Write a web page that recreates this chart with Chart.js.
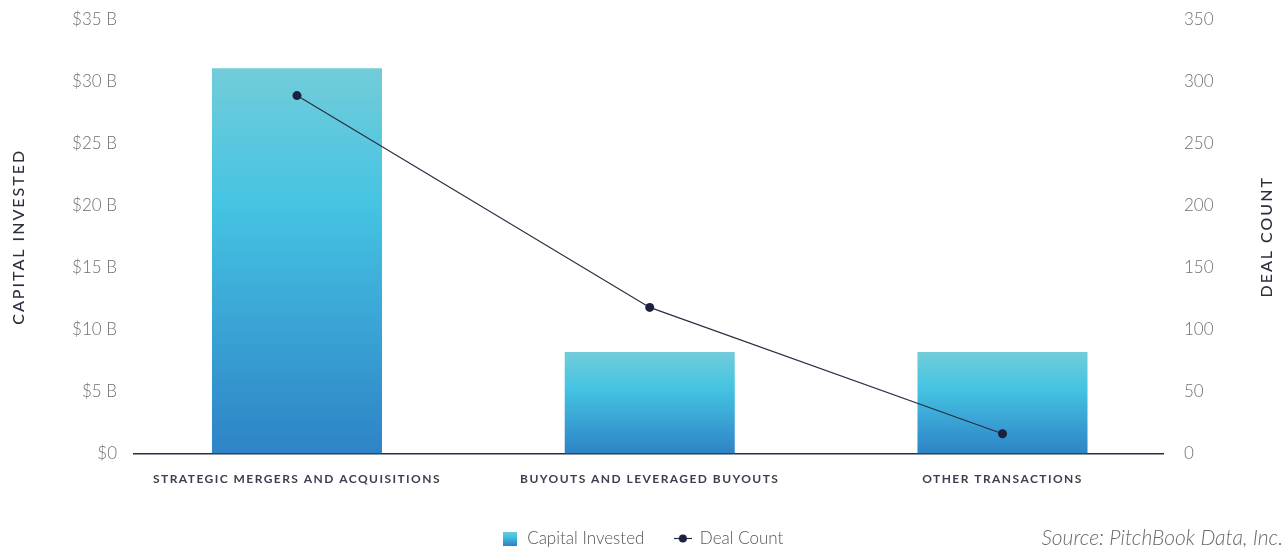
<!DOCTYPE html>
<html>
<head>
<meta charset="utf-8">
<script src="https://cdn.jsdelivr.net/npm/chart.js@4/dist/chart.umd.min.js"></script>
<style>
html,body{margin:0;padding:0;background:#fff;}
#wrap{width:1285px;height:547px;position:relative;}
</style>
</head>
<body>
<div id="wrap"><canvas id="c" width="1285" height="547"></canvas></div>
<script>
const categories = ['STRATEGIC MERGERS AND ACQUISITIONS', 'BUYOUTS AND LEVERAGED BUYOUTS', 'OTHER TRANSACTIONS'];
const capitalInvested = [31.1, 8.2, 8.2];   // $B
const dealCount = [289, 118, 16];
const leftTicks = [0, 5, 10, 15, 20, 25, 30, 35];
const rightTicks = [0, 50, 100, 150, 200, 250, 300, 350];

const FONT = "Lato, 'Noto Sans', sans-serif";
const LINE_COLOR = '#2a2e45';
const POINT_COLOR = '#1d2140';

function barGradient(c, top, bottom) {
  const g = c.createLinearGradient(0, top, 0, bottom);
  g.addColorStop(0, '#72ccd9');
  g.addColorStop(0.35, '#45c4e3');
  g.addColorStop(1, '#2e83c6');
  return g;
}

function makeBarIcon() {
  const cv = document.createElement('canvas');
  cv.width = 14; cv.height = 14;
  const c = cv.getContext('2d');
  c.fillStyle = barGradient(c, 0, 14);
  c.fillRect(0, 0, 14, 14);
  return cv;
}
function makeLineIcon() {
  const cv = document.createElement('canvas');
  cv.width = 18; cv.height = 11;
  const c = cv.getContext('2d');
  c.strokeStyle = LINE_COLOR; c.lineWidth = 1.2;
  c.beginPath(); c.moveTo(0, 5.5); c.lineTo(18, 5.5); c.stroke();
  c.fillStyle = POINT_COLOR;
  c.beginPath(); c.arc(9, 5.5, 4, 0, Math.PI * 2); c.fill();
  return cv;
}
const barIcon = makeBarIcon();
const lineIcon = makeLineIcon();

function spaced(spacing, method) {
  return function (scale) {
    if (scale._patched) return;
    scale._patched = true;
    const orig = Object.getPrototypeOf(scale)[method];
    scale[method] = function (...args) {
      const ctx = this.ctx;
      ctx.save();
      ctx.letterSpacing = spacing;
      orig.apply(this, args);
      ctx.restore();
    };
  };
}

const extrasPlugin = {
  id: 'extras',
  afterDraw(chart) {
    const ctx = chart.ctx;
    const a = chart.chartArea;
    ctx.save();
    ctx.font = "500 16px " + FONT;
    ctx.letterSpacing = '2px';
    ctx.fillStyle = '#2b2f3e';
    ctx.textAlign = 'center';
    ctx.textBaseline = 'middle';
    ctx.translate(chart.scales.y1.right - 18, (a.top + a.bottom) / 2);
    ctx.rotate(-Math.PI / 2);
    ctx.fillText('DEAL COUNT', 0, 0);
    ctx.restore();

    ctx.save();
    ctx.font = "italic 300 21px " + FONT;
    ctx.fillStyle = '#6a6a6a';
    ctx.textAlign = 'right';
    ctx.textBaseline = 'middle';
    ctx.fillText('Source: PitchBook Data, Inc.', chart.width - 2, 538);
    ctx.restore();
  }
};

new Chart(document.getElementById('c'), {
  data: {
    datasets: [
      {
        type: 'line',
        label: 'Deal Count',
        data: dealCount.map((v, i) => ({ x: i, y: v })),
        yAxisID: 'y1',
        borderColor: LINE_COLOR,
        borderWidth: 1.2,
        pointRadius: 4.5,
        pointHoverRadius: 4.5,
        pointBackgroundColor: POINT_COLOR,
        pointBorderColor: POINT_COLOR,
        pointBorderWidth: 0,
        tension: 0,
        order: 0
      },
      {
        type: 'bar',
        label: 'Capital Invested',
        data: capitalInvested.map((v, i) => ({ x: i, y: v })),
        yAxisID: 'y',
        categoryPercentage: 0.482,
        barPercentage: 1,
        backgroundColor(ctx) {
          const chart = ctx.chart;
          const ys = chart.scales.y;
          if (!ys || ctx.raw == null) return '#45c4e3';
          const top = ys.getPixelForValue(ctx.raw.y);
          const bottom = ys.getPixelForValue(0);
          return barGradient(chart.ctx, top, bottom);
        },
        borderWidth: 0,
        order: 1
      }
    ]
  },
  options: {
    responsive: false,
    animation: false,
    events: [],
    layout: { padding: { top: 20, bottom: -10, left: 0, right: 0 } },
    scales: {
      x: {
        type: 'linear',
        offset: false,
        min: -0.462,
        max: 2.455,
        afterBuildTicks(scale) { scale.ticks = categories.map((c, i) => ({ value: i })); },
        grid: { display: false, drawTicks: false },
        border: { display: true, color: '#2a2e45', width: 1.5 },
        ticks: {
          color: '#3b3f50',
          font: { family: FONT, size: 12, weight: 'bold' },
          padding: 18,
          maxRotation: 0,
          autoSkip: false,
          callback: v => categories[v]
        },
        afterUpdate: spaced('1.45px', 'drawLabels'),
        afterFit(scale) { scale.height -= 4; scale.paddingLeft = 0; scale.paddingRight = 0; }
      },
      y: {
        position: 'left',
        min: 0, max: 35,
        afterBuildTicks(scale) { scale.ticks = leftTicks.map(v => ({ value: v })); },
        grid: { display: false, drawTicks: false },
        border: { display: false },
        ticks: {
          color: '#707070',
          font: { family: FONT, size: 17, weight: '300' },
          padding: 17,
          callback: v => v === 0 ? '$0' : '$' + v + ' B'
        },
        title: {
          display: true,
          text: 'CAPITAL INVESTED',
          color: '#2b2f3e',
          font: { family: FONT, size: 16, weight: '500' },
          padding: { top: 9, bottom: 0 }
        },
        afterUpdate: spaced('2px', 'drawTitle'),
        afterFit(scale) { scale.width = 134; scale.paddingTop = 0; scale.paddingBottom = 0; }
      },
      y1: {
        position: 'right',
        min: 0, max: 350,
        afterBuildTicks(scale) { scale.ticks = rightTicks.map(v => ({ value: v })); },
        grid: { display: false, drawTicks: false },
        border: { display: false },
        ticks: {
          color: '#707070',
          font: { family: FONT, size: 17, weight: '300' },
          padding: 21
        },
        afterFit(scale) { scale.width = 122; scale.paddingTop = 0; scale.paddingBottom = 0; }
      }
    },
    plugins: {
      tooltip: { enabled: false },
      legend: {
        position: 'bottom',
        align: 'center',
        reverse: true,
        labels: {
          usePointStyle: true,
          color: '#555',
          font: { family: FONT, size: 17, weight: '300' },
          padding: 30,
          generateLabels(chart) {
            return chart.data.datasets.map((ds, i) => ({
              text: ds.label,
              pointStyle: ds.type === 'bar' ? barIcon : lineIcon,
              fillStyle: 'transparent',
              strokeStyle: 'transparent',
              lineWidth: 0,
              datasetIndex: i,
              fontColor: '#555'
            }));
          }
        }
      }
    }
  },
  plugins: [extrasPlugin]
});
</script>
</body>
</html>
